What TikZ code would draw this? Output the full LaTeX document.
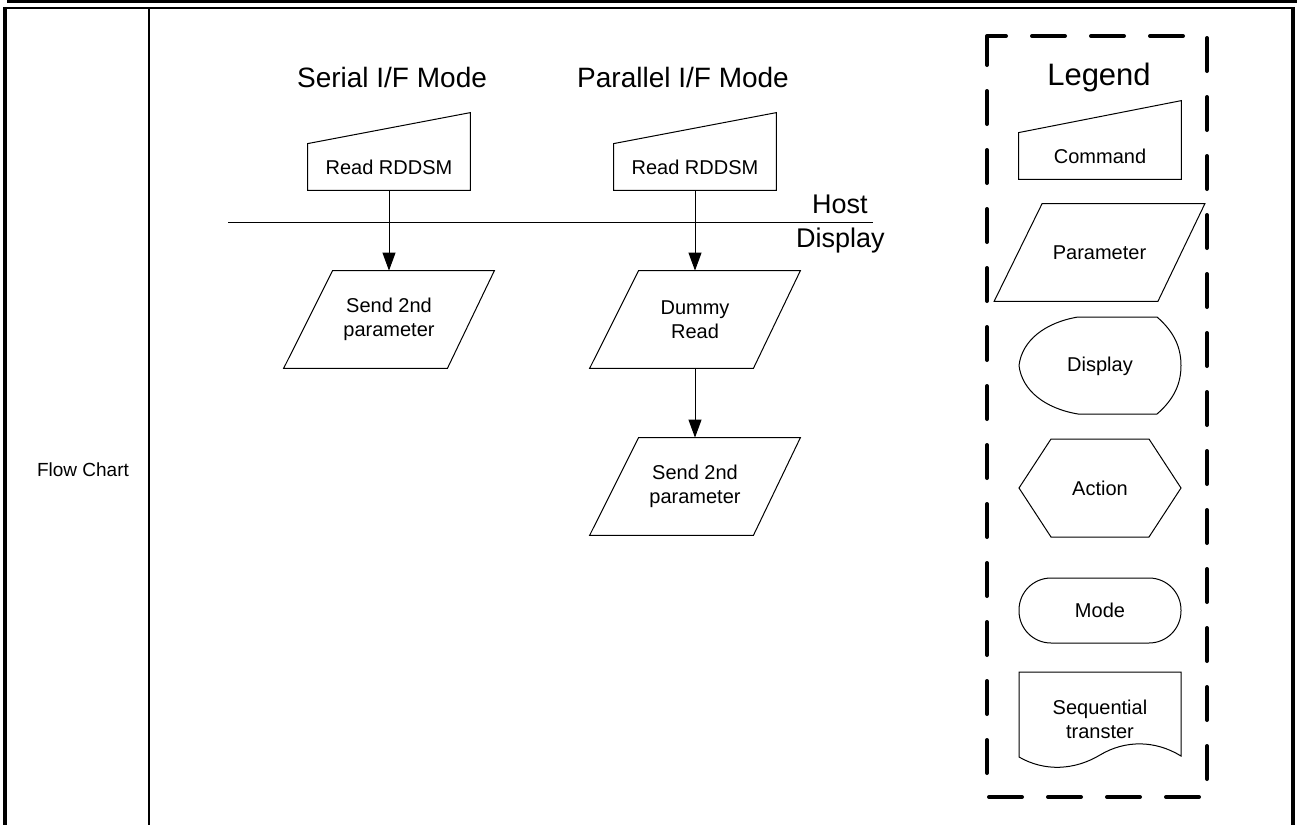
\documentclass[tikz,border=0pt]{standalone}
\usepackage{fontspec}
\setmainfont{Liberation Sans}
\usetikzlibrary{arrows.meta,calc}

\tikzset{
  shapetext/.style={font=\fontsize{10}{12}\selectfont, align=center, inner sep=0pt},
  cmdbox/.style={shapetext, minimum width=81pt, minimum height=23pt},
  parbox/.style={shapetext, minimum width=105pt, minimum height=48.5pt},
  outline/.style={line width=0.5pt},
  flowarrow/.style={line width=0.5pt, -{Triangle[length=9pt,width=6.5pt]}},
  legendframe/.style={line width=2pt, line cap=round, dash pattern=on 16.5pt off 13pt, dash phase=7pt},
  bigtitle/.style={font=\fontsize{14}{16}\selectfont, inner sep=0pt},
}

\begin{document}
\begin{tikzpicture}[x=0.5pt, y=-0.5pt]
  \useasboundingbox (0,0) rectangle (1297,825);

  % table frame
  \fill (7,0) rectangle (1297,3);
  \draw[line width=1pt] (3,8) -- (1295,8);
  \draw[line width=2pt] (5,7) -- (5,825);
  \draw[line width=2pt] (1293,7) -- (1293,825);
  \draw[line width=1pt] (149,8) -- (149,825);
  \node[font=\fontsize{9.5}{11}\selectfont] (rowname) at (83,470) {Flow Chart};

  % host / display boundary
  \coordinate (hostL) at (228,222);
  \coordinate (hostR) at (873,222);
  \draw[line width=0.5pt] (hostL) -- (hostR);
  \node[bigtitle, font=\fontsize{13.5}{16}\selectfont, anchor=base east] (host) at (868,213) {Host};
  \node[bigtitle, font=\fontsize{13.5}{16}\selectfont, anchor=base east] (display) at (885,247) {Display};

  % serial I/F mode
  \node[bigtitle, anchor=base] (serialTitle) at (392,87) {Serial I/F Mode};
  \node[cmdbox] (sCmd) at (389,167) {Read RDDSM};
  \draw[outline] (sCmd.south west) -- (sCmd.south east) -- ($(sCmd.north east)+(0,-31)$) -- (sCmd.north west) -- cycle;
  \node[parbox] (sSend) at (389,319.5) {Send 2nd\\parameter};
  \draw[outline] (sSend.south west) -- ($(sSend.south east)+(-47,0)$) -- (sSend.north east) -- ($(sSend.north west)+(49,0)$) -- cycle;
  \draw[flowarrow] (sCmd.south) -- (sSend.north);

  % parallel I/F mode
  \node[bigtitle, anchor=base] (parallelTitle) at (683,87) {Parallel I/F Mode};
  \node[cmdbox] (pCmd) at (695,167) {Read RDDSM};
  \draw[outline] (pCmd.south west) -- (pCmd.south east) -- ($(pCmd.north east)+(0,-31)$) -- (pCmd.north west) -- cycle;
  \node[parbox] (pDummy) at (695,319.5) {Dummy\\Read};
  \draw[outline] (pDummy.south west) -- ($(pDummy.south east)+(-47,0)$) -- (pDummy.north east) -- ($(pDummy.north west)+(49,0)$) -- cycle;
  \node[parbox] (pSend) at (695,486.5) {Send 2nd\\parameter};
  \draw[outline] (pSend.south west) -- ($(pSend.south east)+(-47,0)$) -- (pSend.north east) -- ($(pSend.north west)+(49,0)$) -- cycle;
  \draw[flowarrow] (pCmd.south) -- (pDummy.north);
  \draw[flowarrow] (pDummy.south) -- (pSend.north);

  % legend
  \draw[legendframe] (987,36) -- (1207,36) -- (1207,797) -- (987,797) -- cycle;
  \node[bigtitle, font=\fontsize{15.5}{18}\selectfont, anchor=base] (legend) at (1099,85) {Legend};
  \node[cmdbox] (lCmd) at (1100,156) {Command};
  \draw[outline] (lCmd.south west) -- (lCmd.south east) -- ($(lCmd.north east)+(0,-32)$) -- (lCmd.north west) -- cycle;
  \node[parbox] (lPar) at (1099.5,252.5) {Parameter};
  \draw[outline] (lPar.south west) -- ($(lPar.south east)+(-47,0)$) -- (lPar.north east) -- ($(lPar.north west)+(48,0)$) -- cycle;
  \node[shapetext] (lDisp) at (1100,366.5) {Display};
  \draw[outline, shift={(1100,365.5)}] (-22,-48.5) -- (57,-48.5)
    .. controls (75,-33) and (81,-17) .. (81,0) .. controls (81,17) and (75,33) .. (57,48.5)
    -- (-22,48.5) .. controls (-55,43) and (-78,25) .. (-81,0)
    .. controls (-78,-25) and (-55,-43) .. (-22,-48.5) -- cycle;
  \node[shapetext] (lAct) at (1100,488) {Action};
  \draw[outline, shift={(1100,488)}] (-81,0) -- (-49,-49) -- (49,-49) -- (81,0) -- (49,49) -- (-49,49) -- cycle;
  \node[shapetext, draw, outline, rounded corners=16pt, minimum width=81pt, minimum height=32.5pt] (lMode) at (1100,610.5) {Mode};
  \node[shapetext] (lSeq) at (1100,719) {Sequential\\transter};
  \draw[outline, shift={(1100,672)}] (-81,85) -- (-81,0) -- (81,0) -- (81,84)
    .. controls (55,68) and (25,68) .. (0,83) .. controls (-25,98) and (-55,100) .. cycle;
\end{tikzpicture}
\end{document}
